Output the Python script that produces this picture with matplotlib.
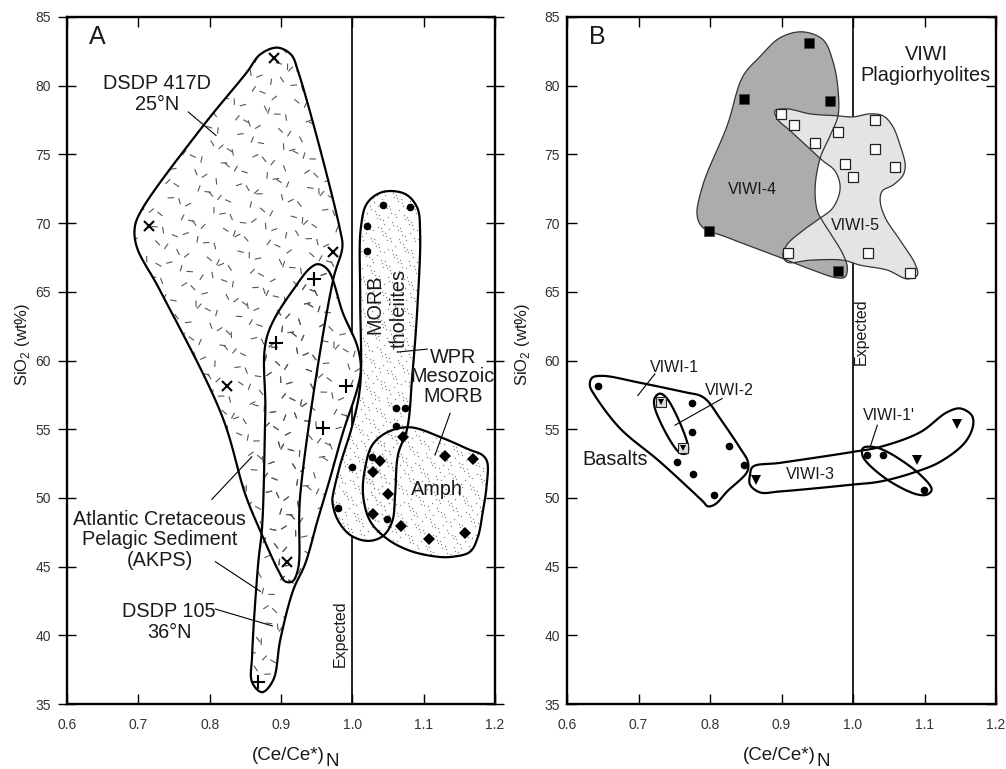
import numpy as np
import matplotlib
matplotlib.use("Agg")
import matplotlib.pyplot as plt
from matplotlib.patches import Polygon
from matplotlib.collections import LineCollection

plt.rcParams['font.family'] = ['Liberation Sans', 'DejaVu Sans']

# ---------------- Panel A data ----------------
dsdp417_x = [0.8707, 0.8945, 0.914, 0.924, 0.983, 0.986, 0.973, 0.927, 0.924, 0.916, 0.906, 0.897,
             0.871, 0.850, 0.817, 0.730, 0.698, 0.695, 0.704, 0.791, 0.852]
dsdp417_y = [82.27, 82.77, 82.27, 81.04, 69.46, 68.24, 65.86, 50.25, 44.86, 43.92, 43.92, 44.64,
             47.59, 50.25, 56.01, 65.14, 68.24, 69.68, 70.9, 77.09, 80.97]

dsdp105_x = [0.952, 0.966, 0.987, 1.007, 1.012, 1.007, 0.987, 0.969, 0.951, 0.934, 0.917, 0.899,
             0.889, 0.8735, 0.8595, 0.8595, 0.868, 0.8735, 0.878, 0.8805, 0.923, 0.941]
dsdp105_y = [67.01, 66.58, 63.42, 61.04, 59.39, 57.95, 54.78, 51.47, 48.31, 45.22, 43.27, 39.68,
             36.73, 35.86, 36.58, 38.53, 45.22, 47.88, 56.22, 61.76, 65.58, 66.73]

morb_x = [0.973, 0.983, 1.000, 1.011, 1.011, 1.012, 1.021, 1.043, 1.074, 1.091, 1.095, 1.091,
          1.084, 1.077, 1.064, 1.060, 1.056, 1.043, 1.022, 0.997, 0.979, 0.972]
morb_y = [50.25, 52.41, 55.29, 58.17, 64.64, 69.68, 71.47, 72.27, 72.12, 71.12, 69.32, 63.71,
          58.88, 55.07, 53.13, 50.25, 48.31, 47.23, 46.87, 47.3, 48.45, 49.75]

amph_x = [1.081, 1.127, 1.165, 1.182, 1.189, 1.188, 1.183, 1.176, 1.165, 1.141, 1.119, 1.081,
          1.049, 1.025, 1.015, 1.018, 1.028, 1.049]
amph_y = [55.14, 54.35, 53.49, 53.13, 52.63, 50.76, 49.03, 47.16, 46.08, 45.72, 45.72, 46.15,
          47.01, 48.31, 50.25, 52.19, 53.85, 54.78]

x417 = [0.890, 0.715, 0.973, 0.824, 0.909]
y417 = [82.05, 69.82, 67.88, 58.17, 45.36]
x105 = [0.946, 0.893, 0.991, 0.959, 0.868]
y105 = [65.94, 61.26, 58.17, 55.07, 36.58]
xmorb = [1.043, 1.081, 1.021, 1.021, 1.061, 1.074, 1.061, 1.028, 1.000, 0.980, 1.049]
ymorb = [71.33, 71.19, 69.82, 67.95, 56.51, 56.51, 55.22, 52.99, 52.27, 49.24, 48.45]
xamph = [1.071, 1.039, 1.029, 1.050, 1.029, 1.068, 1.130, 1.169, 1.108, 1.158]
yamph = [54.42, 52.70, 51.91, 50.25, 48.81, 47.95, 53.06, 52.84, 47.01, 47.45]

# ---------------- Panel B data ----------------
viwi4_x = [0.929, 0.958, 0.972, 0.979, 0.979, 0.968, 0.954, 0.947, 0.950, 0.957, 0.972, 0.986,
           0.992, 0.989, 0.978, 0.940, 0.908, 0.824, 0.790, 0.782, 0.790, 0.824, 0.846, 0.870, 0.898]
viwi4_y = [83.92, 83.35, 81.76, 79.75, 77.81, 76.37, 74.71, 72.55, 70.9, 70.18, 68.96, 67.73,
           66.8, 66.08, 66.01, 66.65, 67.3, 68.96, 69.68, 70.54, 72.77, 77.09, 80.68, 82.12, 83.49]

viwi5_x = [0.891, 0.908, 0.940, 0.978, 1.000, 1.024, 1.042, 1.055, 1.066, 1.073, 1.070, 1.056,
           1.041, 1.038, 1.045, 1.066, 1.087, 1.090, 1.076, 1.048, 1.010, 0.986, 0.940, 0.908,
           0.902, 0.908, 0.930, 0.951, 0.972, 0.982, 0.975, 0.957, 0.936, 0.912, 0.894]
viwi5_y = [78.17, 78.31, 77.95, 77.81, 77.73, 77.95, 77.81, 77.09, 75.65, 74.21, 73.49, 72.77,
           72.34, 71.62, 70.4, 68.74, 67.01, 66.22, 65.94, 66.58, 66.94, 67.3, 67.3, 67.16,
           67.66, 68.45, 69.46, 70.25, 71.12, 72.55, 73.78, 74.57, 75.58, 76.73, 77.59]

viwi1_x = [0.635, 0.650, 0.702, 0.768, 0.786, 0.796, 0.814, 0.842, 0.853, 0.852, 0.824, 0.807,
           0.797, 0.790, 0.730, 0.674, 0.639, 0.632]
viwi1_y = [58.74, 58.88, 58.38, 57.66, 57.45, 57.09, 55.79, 53.63, 52.63, 51.91, 50.47, 49.53,
           49.39, 49.75, 52.63, 55.07, 57.45, 58.17]

viwi2_x = [0.730, 0.740, 0.769, 0.768, 0.758, 0.723, 0.723]
viwi2_y = [57.59, 57.23, 53.85, 53.27, 53.27, 56.51, 57.30]

viwi3_x = [0.860, 0.898, 1.000, 1.038, 1.094, 1.131, 1.150, 1.166, 1.168, 1.157, 1.122, 1.084,
           1.038, 1.000, 0.898, 0.870, 0.856, 0.856]
viwi3_y = [52.27, 52.55, 53.35, 53.71, 54.78, 56.22, 56.51, 56.01, 55.29, 54.06, 52.63, 51.83,
           51.19, 50.97, 50.47, 50.40, 50.97, 51.69]

viwi1p_x = [1.014, 1.028, 1.048, 1.094, 1.110, 1.104, 1.090, 1.052, 1.020, 1.013]
viwi1p_y = [53.63, 53.71, 53.35, 51.69, 50.61, 50.25, 50.25, 51.19, 52.55, 53.13]

sq4_x = [0.938, 0.848, 0.968, 0.799, 0.979]
sq4_y = [83.13, 79.03, 78.88, 69.46, 66.51]
sq5_x = [0.899, 0.917, 0.947, 0.979, 1.031, 1.031, 0.989, 1.000, 1.059, 0.909, 1.021, 1.080]
sq5_y = [77.95, 77.16, 75.86, 76.65, 77.52, 75.36, 74.28, 73.35, 74.06, 67.81, 67.81, 66.37]
bas_x = [0.643, 0.775, 0.775, 0.827, 0.754, 0.848, 0.776, 0.806]
bas_y = [58.17, 56.94, 54.78, 53.78, 52.63, 52.41, 51.76, 50.18]
v2_x = [0.731, 0.762]
v2_y = [57.01, 53.63]
v3_x = [0.864, 1.090, 1.145]
v3_y = [51.33, 52.77, 55.36]
v1p_x = [1.020, 1.042, 1.099]
v1p_y = [53.13, 53.13, 50.54]

x_ticks = [0.6, 0.7, 0.8, 0.9, 1.0, 1.1, 1.2]
y_ticks = [35, 40, 45, 50, 55, 60, 65, 70, 75, 80, 85]


def smooth_closed(xs, ys, sx=714.0, sy=13.9, n=14):
    P = np.column_stack([np.asarray(xs) * sx, np.asarray(ys) * sy])
    m = len(P)
    out = []
    for i in range(m):
        p0, p1, p2, p3 = P[(i - 1) % m], P[i], P[(i + 1) % m], P[(i + 2) % m]
        t0 = 0.0
        t1 = t0 + max(np.linalg.norm(p1 - p0) ** 0.5, 1e-6)
        t2 = t1 + max(np.linalg.norm(p2 - p1) ** 0.5, 1e-6)
        t3 = t2 + max(np.linalg.norm(p3 - p2) ** 0.5, 1e-6)
        for t in np.linspace(t1, t2, n, endpoint=False):
            a1 = (t1 - t) / (t1 - t0) * p0 + (t - t0) / (t1 - t0) * p1
            a2 = (t2 - t) / (t2 - t1) * p1 + (t - t1) / (t2 - t1) * p2
            a3 = (t3 - t) / (t3 - t2) * p2 + (t - t2) / (t3 - t2) * p3
            b1 = (t2 - t) / (t2 - t0) * a1 + (t - t0) / (t2 - t0) * a2
            b2 = (t3 - t) / (t3 - t1) * a2 + (t - t1) / (t3 - t1) * a3
            out.append((t2 - t) / (t2 - t1) * b1 + (t - t1) / (t2 - t1) * b2)
    out = np.array(out)
    return np.column_stack([out[:, 0] / sx, out[:, 1] / sy])


def axes_px(ax):
    fig = ax.figure
    bb = ax.get_position()
    return bb.width * fig.get_figwidth() * fig.dpi, bb.height * fig.get_figheight() * fig.dpi


def dash_texture(ax, clip_patch, spacing=14.0, length=6.5):
    W, H = axes_px(ax)
    segs = []
    k = 0
    for j in range(int(H / spacing) + 2):
        for i in range(int(W / spacing) + 2):
            k += 1
            px = (i + ((k * 0.618034) % 1.0) - 0.5) * spacing
            py = (j + ((k * 0.754878) % 1.0) - 0.5) * spacing
            ang = ((k * 0.5698403) % 1.0) * np.pi
            dx, dy = 0.5 * length * np.cos(ang), 0.5 * length * np.sin(ang)
            segs.append([((px - dx) / W, (py - dy) / H), ((px + dx) / W, (py + dy) / H)])
    lc = LineCollection(segs, colors='#555555', linewidths=0.8,
                        transform=ax.transAxes, zorder=2)
    ax.add_collection(lc)
    lc.set_clip_path(clip_patch)


def stipple(ax, clip_patch, spacing=5.5):
    W, H = axes_px(ax)
    xs, ys = [], []
    k = 0
    for j in range(int(H / spacing) + 2):
        for i in range(int(W / spacing) + 2):
            k += 1
            xs.append((i + ((k * 0.618034) % 1.0) - 0.5) * spacing / W)
            ys.append((j + ((k * 0.754878) % 1.0) - 0.5) * spacing / H)
    ln, = ax.plot(xs, ys, ls='none', marker='o', ms=1.0, mew=0, color='#8a8a8a',
                  transform=ax.transAxes, zorder=2)
    ln.set_clip_path(clip_patch)


def fill_patch(ax, xs, ys, color, z=1.5):
    p = Polygon(smooth_closed(xs, ys), closed=True, facecolor=color, edgecolor='none', zorder=z)
    ax.add_patch(p)
    return p


def outline(ax, xs, ys, lw=1.6, color='black', z=3):
    p = Polygon(smooth_closed(xs, ys), closed=True, facecolor='none', edgecolor=color,
                linewidth=lw, zorder=z, joinstyle='round')
    ax.add_patch(p)
    return p


def style_axes(ax, left_dir='in'):
    ax.set_xlim(0.6, 1.2)
    ax.set_ylim(35, 85)
    ax.set_xticks(x_ticks)
    ax.set_xticklabels(['%.1f' % v for v in x_ticks])
    ax.set_yticks(y_ticks)
    ax.set_yticklabels([str(v) for v in y_ticks])
    ax.tick_params(direction='in', length=7, width=1.0, top=True, right=True,
                   labelsize=10, labelcolor='#333333', pad=10)
    ax.tick_params(axis='y', pad=5)
    if left_dir == 'inout':
        ax.tick_params(axis='y', which='both', left=True, direction='inout', length=13)
    for s in ax.spines.values():
        s.set_linewidth(1.7)
    ax.axvline(1.0, color='#222222', lw=1.4, zorder=1)


fig = plt.figure(figsize=(10.06, 7.69), dpi=100)
axA = fig.add_axes([67 / 1006, 1 - 704 / 769, 428 / 1006, 687 / 769])
axB = fig.add_axes([567 / 1006, 1 - 704 / 769, 429 / 1006, 687 / 769])

# ---------------- Panel A ----------------
style_axes(axA, left_dir='inout')
f417 = fill_patch(axA, dsdp417_x, dsdp417_y, 'white')
f105 = fill_patch(axA, dsdp105_x, dsdp105_y, 'white')
fmorb = fill_patch(axA, morb_x, morb_y, 'white')
famph = fill_patch(axA, amph_x, amph_y, 'white')
dash_texture(axA, f417)
dash_texture(axA, f105)
stipple(axA, fmorb)
stipple(axA, famph)
for xs, ys in [(dsdp417_x, dsdp417_y), (dsdp105_x, dsdp105_y), (morb_x, morb_y), (amph_x, amph_y)]:
    outline(axA, xs, ys, lw=1.6)

axA.plot(x417, y417, ls='none', marker='x', ms=7, mew=1.5, color='black', zorder=4)
axA.plot(x105, y105, ls='none', marker='+', ms=10, mew=1.5, color='black', zorder=4)
axA.plot(xmorb, ymorb, ls='none', marker='o', ms=5.5, mew=0, color='black', zorder=4)
axA.plot(xamph, yamph, ls='none', marker='D', ms=6.5, mew=0, color='black', zorder=4)

leadA = [((0.770, 78.09), (0.809, 76.37)),
         ((0.803, 49.89), (0.859, 52.99)),
         ((0.808, 45.36), (0.871, 43.20)),
         ((0.808, 41.91), (0.888, 40.68)),
         ((1.063, 60.61), (1.105, 60.83)),
         ((1.137, 56.15), (1.116, 53.13))]
for (a, b) in leadA:
    axA.plot([a[0], b[0]], [a[1], b[1]], color='black', lw=0.8, zorder=4)

tc = '#1a1a1a'
big = 14.3
small = 11.5
axA.text(0.642, 83.56, 'A', fontsize=18, ha='center', va='center', color=tc, zorder=5)
axA.text(0.726, 79.39, 'DSDP 417D\n25°N', fontsize=big, ha='center', va='center',
         color=tc, linespacing=1.1, zorder=5)
axA.text(0.730, 46.94, 'Atlantic Cretaceous\nPelagic Sediment\n(AKPS)', fontsize=big,
         ha='center', va='center', color=tc, linespacing=1.1, zorder=5)
axA.text(0.743, 40.97, 'DSDP 105\n36°N', fontsize=big, ha='center', va='center',
         color=tc, linespacing=1.1, zorder=5)
axA.text(1.032, 64.06, 'MORB', fontsize=big, rotation=90, ha='center', va='center',
         color=tc, zorder=5)
axA.text(1.066, 63.78, 'tholeiites', fontsize=big, rotation=90, ha='center', va='center',
         color=tc, zorder=5)
axA.text(1.141, 58.81, 'WPR\nMesozoic\nMORB', fontsize=big, ha='center', va='center',
         color=tc, linespacing=1.05, zorder=5)
axA.text(1.118, 50.61, 'Amph', fontsize=big, ha='center', va='center', color=tc, zorder=5)
axA.text(0.983, 40.11, 'Expected', fontsize=small, rotation=90, ha='center', va='center',
         color=tc, zorder=5)

# ---------------- Panel B ----------------
style_axes(axB)
fill_patch(axB, viwi4_x, viwi4_y, '#acacac', z=1.5)
fill_patch(axB, viwi5_x, viwi5_y, '#e4e4e4', z=1.6)
outline(axB, viwi4_x, viwi4_y, lw=0.9, color='#333333')
outline(axB, viwi5_x, viwi5_y, lw=0.9, color='#333333')
for xs, ys in [(viwi1_x, viwi1_y), (viwi2_x, viwi2_y), (viwi3_x, viwi3_y), (viwi1p_x, viwi1p_y)]:
    outline(axB, xs, ys, lw=1.6)

axB.plot(sq4_x, sq4_y, ls='none', marker='s', ms=6.5, mew=0.5, mec='#444444',
         color='black', zorder=4)
axB.plot(sq5_x, sq5_y, ls='none', marker='s', ms=6.5, mew=0.9, mec='#222222',
         mfc='white', zorder=4)
axB.plot(bas_x, bas_y, ls='none', marker='o', ms=5.5, mew=0, color='black', zorder=4)
axB.plot(v2_x, v2_y, ls='none', marker='s', ms=6.5, mew=0.8, mec='#222222',
         mfc='#dddddd', zorder=4)
axB.plot(v2_x, v2_y, ls='none', marker='v', ms=4, mew=0, color='black', zorder=4.5)
axB.plot(v3_x, v3_y, ls='none', marker='v', ms=7, mew=0, color='black', zorder=4)
axB.plot(v1p_x, v1p_y, ls='none', marker='o', ms=5.5, mew=0, color='black', zorder=4)

leadB = [((0.723, 59.03), (0.699, 57.45)),
         ((0.817, 57.23), (0.751, 55.29)),
         ((1.034, 55.29), (1.024, 53.71))]
for (a, b) in leadB:
    axB.plot([a[0], b[0]], [a[1], b[1]], color='black', lw=0.8, zorder=4)

axB.text(0.642, 83.56, 'B', fontsize=18, ha='center', va='center', color=tc, zorder=5)
axB.text(1.102, 81.51, 'VIWI\nPlagiorhyolites', fontsize=big, ha='center', va='center',
         color=tc, linespacing=1.1, zorder=5)
axB.text(0.860, 72.41, 'VIWI-4', fontsize=small, ha='center', va='center', color=tc, zorder=5)
axB.text(1.004, 69.82, 'VIWI-5', fontsize=small, ha='center', va='center', color=tc, zorder=5)
axB.text(0.750, 59.46, 'VIWI-1', fontsize=small, ha='center', va='center', color=tc, zorder=5)
axB.text(0.827, 57.81, 'VIWI-2', fontsize=small, ha='center', va='center', color=tc, zorder=5)
axB.text(0.667, 52.77, 'Basalts', fontsize=big, ha='center', va='center', color=tc, zorder=5)
axB.text(0.941, 51.69, 'VIWI-3', fontsize=small, ha='center', va='center', color=tc, zorder=5)
axB.text(1.050, 56.01, "VIWI-1'", fontsize=small, ha='center', va='center', color=tc, zorder=5)
axB.text(1.011, 62.12, 'Expected', fontsize=small, rotation=90, ha='center', va='center',
         color=tc, zorder=5)

# ---------------- axis labels ----------------
for cx, nx in [(288, 332), (779, 823)]:
    fig.text(cx / 1006, 1 - 755 / 769, '(Ce/Ce*)', fontsize=13.5, ha='center', va='center',
             color=tc)
    fig.text(nx / 1006, 1 - 761 / 769, 'N', fontsize=13.5, ha='center', va='center', color=tc)
for lx in [22, 522]:
    fig.text(lx / 1006, 1 - 345 / 769, r'SiO$_\mathregular{2}$ (wt%)', fontsize=12,
             rotation=90, ha='center', va='center', color=tc)

fig.savefig('out.png', dpi=100)
